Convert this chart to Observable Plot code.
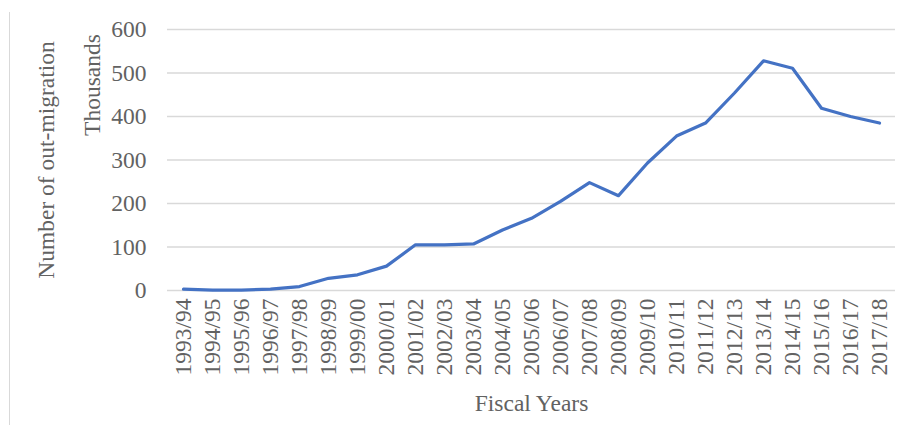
<!DOCTYPE html>
<html>
<head>
<meta charset="utf-8">
<script src="https://cdn.jsdelivr.net/npm/d3@7"></script>
<script src="https://cdn.jsdelivr.net/npm/@observablehq/plot@0.6"></script>
<style>
  html, body { margin: 0; padding: 0; background: #fff; }
  #wrap { position: relative; width: 903px; height: 425px; overflow: hidden; }
  #border { position: absolute; left: 9px; top: 12px; width: 0; height: 413px; border-left: 1px solid #d9d9d9; }
  #chart { position: absolute; left: 0; top: 0; }
</style>
</head>
<body>
<div id="wrap"><div id="chart"></div><div id="border"></div></div>
<script>
const years = ["1993/94","1994/95","1995/96","1996/97","1997/98","1998/99","1999/00","2000/01","2001/02","2002/03","2003/04","2004/05","2005/06","2006/07","2007/08","2008/09","2009/10","2010/11","2011/12","2012/13","2013/14","2014/15","2015/16","2016/17","2017/18"];
const values = [3, 1, 1, 3, 9, 28, 36, 56, 105, 105, 107, 139, 166, 205, 248, 218, 293, 355, 385, 454, 528, 511, 419, 400, 385];
const yTicks = [0, 100, 200, 300, 400, 500, 600];
const yTitle = "Number of out-migration";
const yUnit = "Thousands";
const xTitle = "Fiscal Years";

const data = years.map((y, i) => ({year: y, value: values[i]}));
const FS = 23.5;
const TXT = "#626262";

const chart = Plot.plot({
  width: 903,
  height: 425,
  marginLeft: 167,
  marginRight: 8,
  marginTop: 29,
  marginBottom: 135,
  style: {fontFamily: "'Liberation Serif', 'Times New Roman', serif", fontSize: FS + "px", color: TXT, background: "transparent"},
  x: {type: "point", domain: years, padding: 0.5},
  y: {domain: [0, 600]},
  marks: [
    Plot.gridY(yTicks, {stroke: "#d9d9d9", strokeOpacity: 1, strokeWidth: 1.3}),
    Plot.axisY(yTicks, {tickSize: 0, tickPadding: 21, label: null, fontSize: FS}),
    Plot.axisX({tickSize: 0, tickPadding: 8, tickRotate: -90, label: null, fontSize: FS}),
    Plot.line(data, {x: "year", y: "value", stroke: "#4472C4", strokeWidth: 3.2, strokeLinejoin: "round"}),
    Plot.text([yTitle], {frameAnchor: "left", text: d => d, rotate: -90, textAnchor: "middle", lineAnchor: "middle", dx: -121, dy: 0, fontSize: FS, fill: TXT}),
    Plot.text([yUnit], {frameAnchor: "left", text: d => d, rotate: -90, textAnchor: "middle", lineAnchor: "middle", dx: -75, dy: -75, fontSize: FS, fill: TXT}),
    Plot.text([xTitle], {frameAnchor: "bottom", text: d => d, textAnchor: "middle", lineAnchor: "middle", dy: 113, fontSize: FS, fill: TXT})
  ]
});
document.getElementById("chart").appendChild(chart);
</script>
</body>
</html>
